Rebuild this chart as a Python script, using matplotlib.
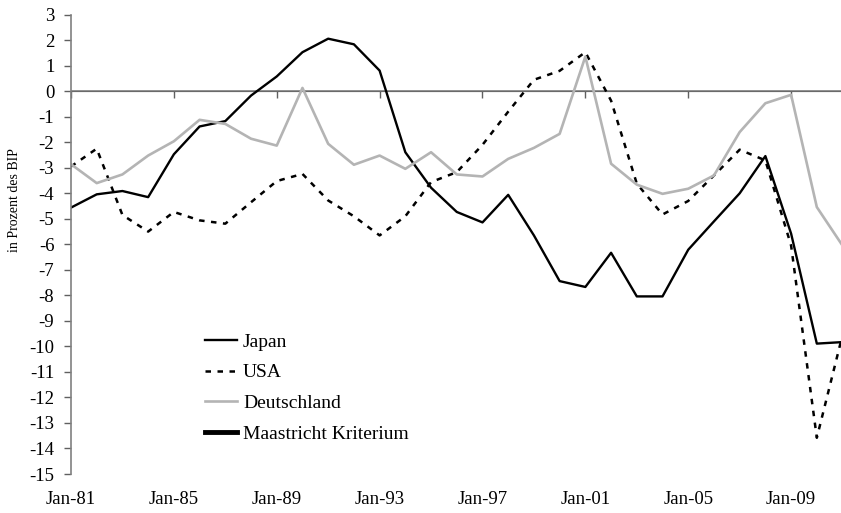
import matplotlib
matplotlib.use("Agg")
import matplotlib.pyplot as plt

plt.rcParams['font.family'] = ['Liberation Serif', 'DejaVu Serif']
plt.rcParams['axes.unicode_minus'] = False

# Haushaltssaldo in Prozent des BIP, jaehrlich
years = list(range(1981, 2012))
japan = [-4.56, -4.04, -3.91, -4.15, -2.47, -1.38, -1.17, -0.17, 0.58, 1.53,
         2.06, 1.84, 0.81, -2.39, -3.78, -4.73, -5.14, -4.06, -5.65, -7.44,
         -7.67, -6.33, -8.04, -8.04, -6.21, -5.10, -4.00, -2.54, -5.58, -9.89,
         -9.83]
usa = [-2.95, -2.25, -4.85, -5.50, -4.73, -5.06, -5.19, -4.35, -3.52, -3.24,
       -4.28, -4.90, -5.65, -4.90, -3.56, -3.17, -2.10, -0.80, 0.45, 0.80,
       1.53, -0.37, -3.62, -4.83, -4.30, -3.30, -2.29, -2.71, -6.05, -13.58,
       -9.55]
deutschland = [-2.86, -3.60, -3.26, -2.52, -1.96, -1.12, -1.28, -1.86, -2.13, 0.13,
               -2.06, -2.88, -2.52, -3.04, -2.39, -3.26, -3.34, -2.65, -2.22, -1.67,
               1.36, -2.84, -3.66, -4.02, -3.82, -3.30, -1.60, -0.47, -0.14, -4.54,
               -6.05]
tick_years = [1981, 1985, 1989, 1993, 1997, 2001, 2005, 2009]
tick_labels = ["Jan-81", "Jan-85", "Jan-89", "Jan-93", "Jan-97", "Jan-01", "Jan-05", "Jan-09"]

fig = plt.figure(figsize=(8.41, 5.13), dpi=100)
ax = fig.add_axes([71/841, 1 - 474/513, 1 - 71/841, (474 - 14.7)/513])

ax.plot(years, japan, color='black', lw=1.7, label='Japan')
ax.plot(years, usa, color='black', lw=1.8, dashes=(2.2, 2.6), label='USA')
ax.plot(years, deutschland, color='#b4b4b4', lw=1.9, label='Deutschland')
ax.plot([], [], color='black', lw=3.5, label='Maastricht Kriterium')

ax.set_xlim(1981, 2010.94)
ax.set_ylim(-15, 3)
ax.set_yticks(range(-15, 4))

# zero line carrying the x ticks
ax.axhline(0, color='#808080', lw=1.2, zorder=1)
sec = ax.secondary_xaxis(15/18)
sec.spines['bottom'].set_visible(False)
sec.set_xticks(tick_years)
sec.tick_params(axis='x', direction='out', length=5, width=1, color='#606060',
                labelbottom=False, labeltop=False, bottom=True, top=False)

ax.set_xticks(tick_years)
ax.set_xticklabels(tick_labels)
ax.tick_params(axis='x', length=0, pad=12, labelsize=13.5)
ax.tick_params(axis='y', direction='out', length=5, width=1, color='#606060',
               pad=7, labelsize=13.5)

for s in ['top', 'right', 'bottom']:
    ax.spines[s].set_visible(False)
ax.spines['left'].set_color('#808080')
ax.spines['left'].set_linewidth(1.2)

fig.text(15/841, 1 - 200/513, 'in Prozent des BIP', rotation=90,
         ha='center', va='center', fontsize=10)

fig.legend(loc='upper left', bbox_to_anchor=(205/841, 1 - 333/513),
           frameon=False, fontsize=14, handlelength=1.65, handletextpad=0.3,
           labelspacing=0.68, borderpad=0, borderaxespad=0)

fig.savefig('out.png', dpi=100)
